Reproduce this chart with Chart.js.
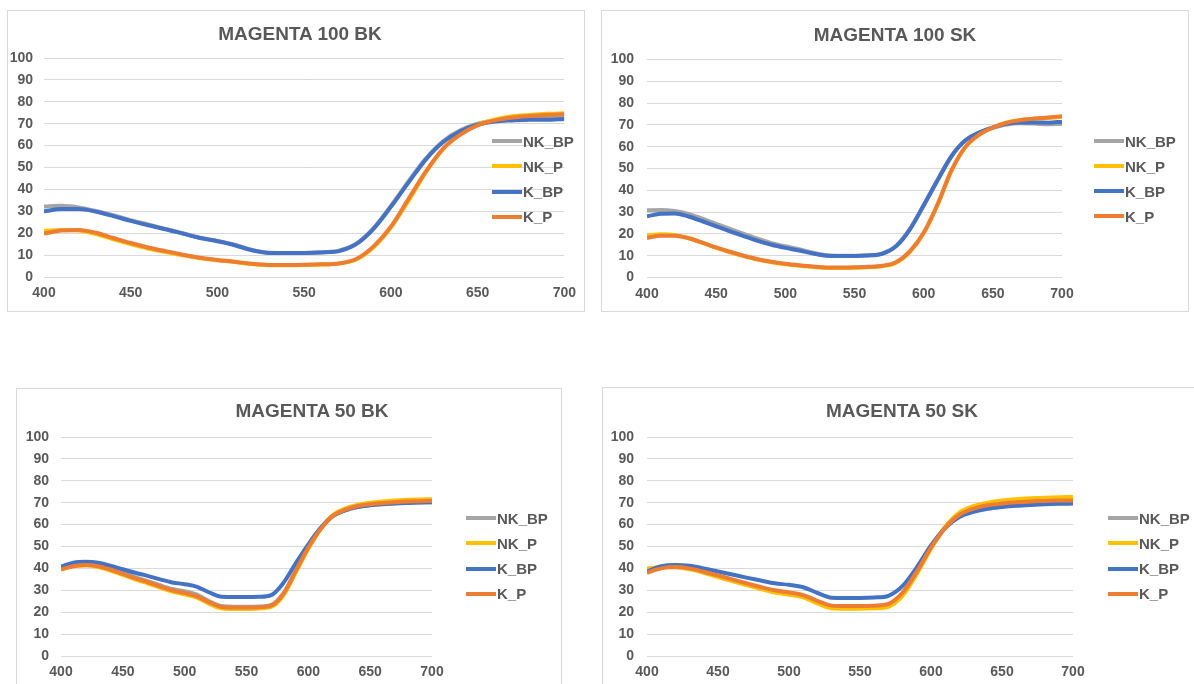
<!DOCTYPE html>
<html>
<head>
<meta charset="utf-8">
<title>Magenta reflectance</title>
<script src="https://cdn.jsdelivr.net/npm/chart.js@4.4.1/dist/chart.umd.min.js"></script>
<style>
  html, body { margin: 0; padding: 0; background: #fff; overflow: hidden; }
  body { width: 1194px; height: 684px; position: relative; font-family: "Liberation Sans", Arial, sans-serif; color: #595959; }
  .panel { position: absolute; box-sizing: border-box; border: 1px solid #d9d9d9; background: #fff; }
  .plot { position: absolute; }
  .title { position: absolute; transform: translate(-50%, -50%); font-weight: bold; font-size: 19px; line-height: 1; white-space: nowrap; }
  .legend-item { position: absolute; height: 20px; display: flex; align-items: center; font-weight: bold; font-size: 15px; line-height: 1; white-space: nowrap; }
  .legend-item .swatch { width: 30px; height: 4px; margin-right: 1px; }
</style>
</head>
<body>
<script>
// Wavelengths (nm) and series names
const wavelengths = [400, 410, 420, 430, 440, 450, 460, 470, 480, 490, 500, 510, 520, 530, 540, 550,
                     560, 570, 580, 590, 600, 610, 620, 630, 640, 650, 660, 670, 680, 690, 700];
const seriesNames = ['NK_BP', 'NK_P', 'K_BP', 'K_P'];
const seriesColors = ['#A5A5A5', '#FFC000', '#4472C4', '#ED7D31'];
const xTicks = [400, 450, 500, 550, 600, 650, 700];
const yTicks = [0, 10, 20, 30, 40, 50, 60, 70, 80, 90, 100];

// MAGENTA 100 BK
const m100bk_NK_BP = [32.2, 32.5, 31.8, 30.2, 28.2, 26.0, 24.0, 22.0, 20.0, 18.0, 16.5, 14.7, 12.4, 11.1, 11.0, 11.0, 11.3, 12.0, 15.2, 22.3, 32.5, 43.5, 54.0, 62.0, 67.0, 70.0, 71.5, 72.0, 72.3, 72.5, 72.8];
const m100bk_NK_P  = [21.0, 21.5, 21.2, 19.6, 17.2, 15.0, 13.0, 11.4, 9.9, 8.6, 7.6, 6.8, 5.9, 5.4, 5.4, 5.5, 5.7, 6.1, 8.0, 13.6, 22.6, 34.6, 47.6, 58.4, 65.2, 69.6, 72.0, 73.4, 74.0, 74.5, 74.8];
const m100bk_K_BP  = [30.0, 31.0, 31.0, 29.8, 27.8, 25.6, 23.6, 21.8, 19.8, 17.8, 16.3, 14.5, 12.2, 11.0, 11.0, 11.0, 11.2, 11.8, 15.0, 22.0, 32.0, 43.0, 53.5, 61.5, 66.5, 69.5, 71.0, 71.5, 71.8, 71.8, 72.2];
const m100bk_K_P   = [19.8, 21.2, 21.5, 20.2, 17.8, 15.5, 13.5, 11.8, 10.2, 8.8, 7.8, 7.0, 6.0, 5.5, 5.5, 5.6, 5.8, 6.2, 8.2, 14.0, 23.0, 35.5, 48.0, 58.5, 65.0, 69.2, 71.5, 72.8, 73.5, 74.0, 74.3];

// MAGENTA 100 SK
const m100sk_NK_BP = [30.8, 31.0, 30.5, 29.2, 27.0, 24.6, 22.3, 20.0, 17.8, 15.8, 14.3, 13.0, 11.4, 10.2, 10.0, 10.0, 10.2, 11.0, 14.5, 22.3, 33.3, 44.8, 55.6, 62.8, 66.4, 68.6, 70.2, 70.8, 70.6, 70.3, 70.4];
const m100sk_NK_P  = [19.3, 19.8, 19.5, 18.1, 15.9, 13.6, 11.6, 9.8, 8.2, 7.0, 6.1, 5.4, 4.8, 4.4, 4.4, 4.5, 4.7, 5.2, 6.8, 11.8, 20.3, 33.3, 48.8, 59.7, 65.5, 68.8, 71.0, 72.2, 72.8, 73.2, 73.7];
const m100sk_K_BP  = [28.1, 29.2, 29.4, 28.0, 25.8, 23.5, 21.2, 19.0, 16.8, 15.0, 13.6, 12.4, 11.0, 10.0, 9.9, 9.9, 10.1, 10.9, 14.3, 22.0, 33.0, 44.5, 55.5, 62.8, 66.5, 68.8, 70.5, 71.1, 71.1, 71.0, 71.5];
const m100sk_K_P   = [18.1, 19.2, 19.2, 18.0, 16.0, 13.8, 11.8, 10.0, 8.4, 7.2, 6.3, 5.6, 5.0, 4.6, 4.6, 4.7, 4.9, 5.4, 7.0, 12.0, 20.5, 33.5, 49.0, 59.8, 65.5, 68.8, 71.0, 72.2, 72.9, 73.4, 74.0];

// MAGENTA 50 BK
const m50bk_NK_BP = [40.0, 41.5, 42.0, 41.5, 40.0, 38.0, 36.0, 34.2, 32.3, 30.6, 29.6, 28.0, 25.0, 22.8, 22.5, 22.5, 22.6, 23.3, 28.8, 39.2, 49.8, 58.3, 64.0, 66.6, 68.2, 69.0, 69.5, 69.8, 70.0, 70.1, 70.2];
const m50bk_NK_P  = [39.8, 41.0, 41.3, 40.6, 39.0, 37.0, 35.0, 33.2, 31.2, 29.4, 28.2, 26.6, 23.8, 21.7, 21.5, 21.5, 21.7, 22.4, 27.8, 38.3, 49.0, 58.0, 64.5, 67.4, 69.0, 70.0, 70.6, 71.0, 71.3, 71.5, 71.6];
const m50bk_K_BP  = [40.8, 42.6, 43.0, 42.6, 41.2, 39.6, 38.0, 36.6, 35.0, 33.6, 32.8, 31.6, 29.0, 27.0, 26.9, 26.9, 27.0, 27.8, 33.5, 42.5, 51.0, 58.5, 64.0, 66.5, 68.0, 68.8, 69.3, 69.6, 69.9, 70.1, 70.2];
const m50bk_K_P   = [39.5, 41.0, 41.5, 41.0, 39.5, 37.5, 35.5, 33.8, 31.8, 30.0, 28.8, 27.2, 24.5, 22.4, 22.2, 22.2, 22.3, 23.0, 28.5, 39.0, 49.5, 58.0, 64.0, 66.8, 68.5, 69.3, 69.8, 70.2, 70.5, 70.7, 70.8];

// MAGENTA 50 SK
const m50sk_NK_BP = [39.0, 40.5, 40.8, 40.0, 38.3, 36.3, 34.5, 32.8, 31.0, 29.5, 28.6, 27.4, 24.8, 22.6, 22.4, 22.4, 22.6, 23.4, 28.5, 38.0, 49.3, 58.5, 64.3, 67.0, 68.4, 69.2, 69.8, 70.1, 70.3, 70.4, 70.5];
const m50sk_NK_P  = [40.0, 40.6, 40.5, 39.6, 38.0, 36.0, 34.2, 32.4, 30.6, 29.0, 28.0, 26.8, 24.0, 21.8, 21.6, 21.6, 21.8, 22.5, 27.5, 37.5, 49.0, 59.0, 65.5, 68.5, 70.0, 71.0, 71.6, 72.0, 72.3, 72.5, 72.6];
const m50sk_K_BP  = [38.5, 41.0, 41.6, 41.2, 40.0, 38.6, 37.2, 35.8, 34.5, 33.2, 32.5, 31.4, 28.8, 26.6, 26.5, 26.5, 26.7, 27.5, 32.0, 40.5, 50.5, 58.5, 63.5, 65.8, 67.2, 68.0, 68.6, 69.0, 69.3, 69.5, 69.6];
const m50sk_K_P   = [38.0, 40.0, 40.6, 40.0, 38.5, 36.8, 35.0, 33.2, 31.5, 30.0, 29.0, 27.8, 25.2, 23.0, 22.8, 22.8, 23.0, 23.8, 29.0, 38.5, 49.5, 58.5, 64.5, 67.3, 68.8, 69.6, 70.2, 70.6, 70.8, 71.0, 71.0];

const FONT = '"Liberation Sans", Arial, sans-serif';
const TEXT_COLOR = '#595959';
const X_AXIS_H = 30;

// Page layout of each panel: box = frame [l, t, r, b], area = plot area [l, t, r, b]
const panels = [
  { title: 'MAGENTA 100 BK', box: [7, 10, 585, 312], area: [44, 58, 568, 277], titleAt: [300, 32.5],
    legendAt: [492, 141, 25.3], yPad: 11, series: [m100bk_NK_BP, m100bk_NK_P, m100bk_K_BP, m100bk_K_P] },
  { title: 'MAGENTA 100 SK', box: [601, 10, 1189, 312], area: [647, 59.5, 1062, 277.5], titleAt: [895, 34],
    legendAt: [1094, 141, 25], yPad: 13, series: [m100sk_NK_BP, m100sk_NK_P, m100sk_K_BP, m100sk_K_P] },
  { title: 'MAGENTA 50 BK', box: [16, 388, 562, 720], area: [61, 437, 432, 656], titleAt: [312, 410],
    legendAt: [466, 518, 25.3], yPad: 12, series: [m50bk_NK_BP, m50bk_NK_P, m50bk_K_BP, m50bk_K_P] },
  { title: 'MAGENTA 50 SK', box: [602, 387, 1220, 720], area: [647, 437, 1073, 656], titleAt: [902, 409.5],
    legendAt: [1108, 518, 25.3], yPad: 13, series: [m50sk_NK_BP, m50sk_NK_P, m50sk_K_BP, m50sk_K_P] }
];

function addEl(cls, css, text) {
  const el = document.createElement('div');
  el.className = cls;
  Object.assign(el.style, css);
  if (text) el.textContent = text;
  document.body.appendChild(el);
  return el;
}

function buildPanel(p) {
  const [bl, bt, br, bb] = p.box;
  const [al, at, ar, ab] = p.area;

  // Frame
  addEl('panel', { left: bl + 'px', top: bt + 'px', width: (br - bl) + 'px', height: (bb - bt) + 'px' });

  // Canvas holder sits inside the frame border
  const cx0 = bl + 1, cy0 = bt + 1, cx1 = br - 1, cy1 = bb - 1;
  const holder = addEl('plot', { left: cx0 + 'px', top: cy0 + 'px', width: (cx1 - cx0) + 'px', height: (cy1 - cy0) + 'px' });
  const canvas = document.createElement('canvas');
  holder.appendChild(canvas);

  const datasets = p.series.map((values, i) => ({
    label: seriesNames[i],
    data: wavelengths.map((w, k) => ({ x: w, y: values[k] })),
    borderColor: seriesColors[i],
    backgroundColor: seriesColors[i],
    borderWidth: 4,
    pointRadius: 0,
    fill: false,
    cubicInterpolationMode: 'monotone',
    order: seriesNames.length - i // last series drawn on top, like Excel
  }));

  const tickFont = { family: FONT, size: 14, weight: 'bold' };

  new Chart(canvas, {
    type: 'line',
    data: { datasets: datasets },
    options: {
      responsive: true,
      maintainAspectRatio: false,
      animation: false,
      events: [],
      layout: {
        padding: { left: 0, top: at - cy0, right: cx1 - ar, bottom: cy1 - ab - X_AXIS_H }
      },
      plugins: {
        legend: { display: false },
        title: { display: false },
        tooltip: { enabled: false }
      },
      scales: {
        x: {
          type: 'linear',
          min: xTicks[0],
          max: xTicks[xTicks.length - 1],
          afterBuildTicks: s => { s.ticks = xTicks.map(v => ({ value: v })); },
          grid: { display: false, drawTicks: false },
          border: { display: false },
          ticks: { padding: 8, color: TEXT_COLOR, font: tickFont, maxRotation: 0, autoSkip: false },
          afterFit: s => { s.height = X_AXIS_H; }
        },
        y: {
          min: yTicks[0],
          max: yTicks[yTicks.length - 1],
          afterBuildTicks: s => { s.ticks = yTicks.map(v => ({ value: v })); },
          grid: { color: '#d9d9d9', lineWidth: 1, drawTicks: false },
          border: { display: false },
          ticks: { padding: p.yPad, color: TEXT_COLOR, font: tickFont },
          afterFit: s => { s.width = al - cx0; }
        }
      }
    }
  });

  // Title
  addEl('title', { left: p.titleAt[0] + 'px', top: p.titleAt[1] + 'px' }, p.title);

  // Legend (right side, line samples)
  const [lx, ly, dy] = p.legendAt;
  seriesNames.forEach((name, i) => {
    const item = addEl('legend-item', { left: lx + 'px', top: (ly + i * dy - 10) + 'px' });
    const sw = document.createElement('span');
    sw.className = 'swatch';
    sw.style.background = seriesColors[i];
    item.appendChild(sw);
    const tx = document.createElement('span');
    tx.textContent = name;
    item.appendChild(tx);
  });
}

document.addEventListener('DOMContentLoaded', function() {
  try {
    panels.forEach(buildPanel);
  } catch (error) {
    console.error('Error building charts:', error);
  }
});
</script>
</body>
</html>
